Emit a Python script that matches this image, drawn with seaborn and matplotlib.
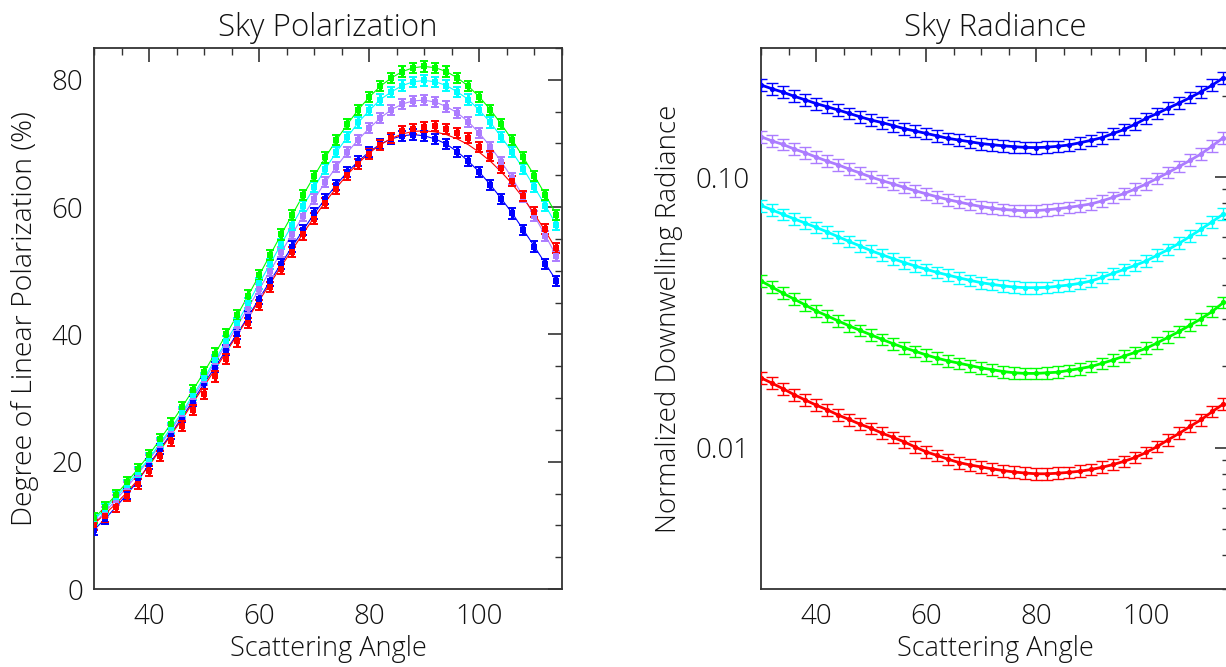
import matplotlib
matplotlib.use("Agg")
import matplotlib.pyplot as plt
import numpy as np
import pandas as pd
import seaborn as sns
from matplotlib.ticker import MultipleLocator, FixedLocator, FixedFormatter, LogLocator, NullFormatter

# ---------------- data ----------------
ANGLES = list(range(30, 116, 2))  # scattering angle (deg)

SERIES = ["blue", "red", "green", "cyan", "purple"]
COLORS = {"blue": "#0000FF", "red": "#FF0000", "green": "#00FF00",
          "cyan": "#00FFFF", "purple": "#AC7CFF"}

# Degree of linear polarization (%)
POL_GREEN = [11.1, 12.9, 14.8, 16.8, 18.9, 21.1, 23.5, 26.0, 28.6, 31.3, 34.1, 37.0, 40.0, 43.0,
             46.1, 49.3, 52.5, 55.7, 58.8, 61.9, 64.9, 67.8, 70.5, 73.0, 75.3, 77.3, 79.0, 80.3,
             81.3, 81.9, 82.1, 81.9, 81.3, 80.3, 79.0, 77.3, 75.3, 73.0, 70.5, 67.8, 64.9, 61.9, 58.8]
POL_CYAN = [10.8, 12.6, 14.4, 16.4, 18.4, 20.5, 22.9, 25.3, 27.8, 30.5, 33.2, 36.0, 38.9, 41.8,
            44.9, 48.0, 51.1, 54.2, 57.2, 60.2, 63.1, 66.0, 68.6, 71.0, 73.3, 75.2, 76.9, 78.1,
            79.1, 79.7, 79.9, 79.7, 79.1, 78.1, 76.9, 75.2, 73.3, 71.0, 68.6, 66.0, 63.1, 60.2, 57.2]
POL_PURPLE = [10.3, 12.1, 14.0, 16.0, 18.1, 20.3, 22.6, 25.0, 27.5, 30.1, 32.8, 35.6, 38.4, 41.3,
              44.2, 47.1, 50.0, 52.9, 55.8, 58.6, 61.3, 63.9, 66.3, 68.6, 70.6, 72.4, 74.0, 75.3,
              76.2, 76.7, 76.8, 76.5, 75.8, 74.8, 73.4, 71.6, 69.5, 67.1, 64.5, 61.6, 58.6, 55.5, 52.3]
POL_BLUE = [9.3, 11.0, 12.9, 14.9, 17.0, 19.6, 22.0, 24.4, 27.0, 29.6, 32.3, 34.9, 37.5, 40.1,
            42.8, 45.6, 48.4, 51.1, 53.8, 56.4, 59.0, 61.3, 63.5, 65.5, 67.2, 68.7, 69.9, 70.7,
            71.2, 71.4, 71.2, 70.7, 69.9, 68.7, 67.2, 65.5, 63.5, 61.3, 59.0, 56.4, 53.8, 51.1, 48.4]
POL_RED = [10.0, 11.4, 12.9, 14.6, 16.5, 18.6, 20.9, 23.2, 25.6, 28.1, 30.7, 33.4, 36.1, 38.9,
           41.8, 44.6, 47.5, 50.3, 53.0, 55.7, 58.2, 60.6, 62.9, 65.0, 66.8, 68.4, 69.8, 70.9,
           71.9, 72.3, 72.6, 72.7, 72.3, 71.7, 70.8, 69.5, 68.0, 66.2, 64.1, 61.8, 59.2, 56.5, 53.6]
# thin model curve for the red channel (differs slightly from the measured points)
POL_RED_FIT = [10.2, 11.8, 13.4, 15.2, 17.2, 19.4, 21.8, 24.2, 26.7, 29.3, 31.9, 34.5, 37.2, 39.9,
               42.6, 45.3, 48.0, 50.7, 53.3, 55.9, 58.4, 60.8, 63.0, 65.1, 66.9, 68.5, 69.8, 70.8,
               71.5, 71.9, 72.0, 71.8, 71.4, 70.7, 69.8, 68.6, 67.2, 65.5, 63.6, 61.4, 58.9, 56.2, 53.3]

# Normalized downwelling radiance
RAD_BLUE = [0.219, 0.212, 0.206, 0.199, 0.193, 0.187, 0.182, 0.177, 0.172, 0.167, 0.1625, 0.159,
            0.155, 0.151, 0.148, 0.145, 0.142, 0.139, 0.137, 0.135, 0.133, 0.1317, 0.1305, 0.1295,
            0.1287, 0.1285, 0.129, 0.130, 0.1315, 0.134, 0.1368, 0.140, 0.145, 0.150, 0.157, 0.165,
            0.172, 0.180, 0.188, 0.197, 0.207, 0.219, 0.233]
RAD_PURPLE = [0.141, 0.136, 0.132, 0.127, 0.123, 0.1186, 0.1145, 0.111, 0.107, 0.1035, 0.100, 0.097,
              0.0943, 0.0916, 0.089, 0.0867, 0.0845, 0.0825, 0.0808, 0.0792, 0.0778, 0.0767, 0.0759,
              0.0754, 0.0751, 0.0752, 0.0757, 0.0764, 0.0773, 0.0784, 0.0796, 0.0817, 0.0842, 0.087,
              0.0904, 0.0944, 0.099, 0.104, 0.1095, 0.1155, 0.122, 0.1305, 0.140]
RAD_CYAN = [0.0785, 0.0756, 0.0728, 0.0701, 0.0676, 0.0652, 0.0627, 0.0602, 0.0578, 0.0556, 0.0534,
            0.0516, 0.0499, 0.0483, 0.0469, 0.0456, 0.0444, 0.0434, 0.0424, 0.0415, 0.0407, 0.0401,
            0.0396, 0.0392, 0.0390, 0.0390, 0.0391, 0.0395, 0.0399, 0.0405, 0.0413, 0.0426, 0.0441,
            0.0456, 0.0472, 0.049, 0.0515, 0.054, 0.057, 0.0605, 0.0643, 0.0685, 0.073]
RAD_GREEN = [0.0413, 0.0392, 0.0372, 0.0354, 0.0337, 0.032, 0.0307, 0.0294, 0.0282, 0.0271, 0.0261,
             0.0251, 0.0242, 0.0234, 0.0227, 0.022, 0.0214, 0.0209, 0.0205, 0.0201, 0.0197, 0.0194,
             0.0191, 0.0189, 0.0188, 0.0188, 0.0189, 0.019, 0.0193, 0.0196, 0.01995, 0.0205, 0.0211,
             0.0218, 0.0225, 0.0233, 0.0244, 0.0256, 0.0269, 0.0284, 0.030, 0.0319, 0.0344]
RAD_RED = [0.0181, 0.0173, 0.0165, 0.0157, 0.015, 0.01436, 0.0138, 0.0132, 0.0127, 0.0122, 0.01178,
           0.0113, 0.0109, 0.0105, 0.01005, 0.00964, 0.00935, 0.00905, 0.0088, 0.00862, 0.00848,
           0.00834, 0.00822, 0.00812, 0.00805, 0.0080, 0.0080, 0.00804, 0.0081, 0.00818, 0.0083,
           0.00846, 0.00866, 0.0089, 0.0092, 0.0096, 0.0101, 0.0107, 0.0113, 0.0120, 0.0127,
           0.0136, 0.0145]

POL_ERR = 0.8        # half-height of the small polarization error bars (%)
RAD_ERR_FRAC = 0.05   # relative radiance uncertainty

X_TICKS = [40, 60, 80, 100]
POL_TICKS = [0, 20, 40, 60, 80]
RAD_TICKS = [0.01, 0.10]
RAD_TICK_LABELS = ["0.01", "0.10"]

pol = pd.DataFrame({"angle": ANGLES, "blue": POL_BLUE, "red": POL_RED, "green": POL_GREEN,
                    "cyan": POL_CYAN, "purple": POL_PURPLE})
rad = pd.DataFrame({"angle": ANGLES, "blue": RAD_BLUE, "red": RAD_RED, "green": RAD_GREEN,
                    "cyan": RAD_CYAN, "purple": RAD_PURPLE})
pol_long = pol.melt(id_vars="angle", var_name="series", value_name="value")
rad_long = rad.melt(id_vars="angle", var_name="series", value_name="value")

# ---------------- style ----------------
sns.set_theme(style="white")
plt.rcParams["font.family"] = ["Open Sans", "DejaVu Sans"]
plt.rcParams["font.weight"] = "light"
TXT = "#111111"
FW = "light"

fig = plt.figure(figsize=(12.26, 6.67), dpi=100)
W, H = 1226.0, 667.0
ax1 = fig.add_axes([94 / W, (H - 589) / H, 468 / W, 541 / H])
ax2 = fig.add_axes([761 / W, (H - 589) / H, 468 / W, 541 / H])

draw_order = ["blue", "purple", "cyan", "green", "red"]

# ---- left: polarization ----
for s in draw_order:
    d = pol_long[pol_long.series == s]
    c = COLORS[s]
    if s == "red":
        sns.lineplot(x=ANGLES, y=POL_RED_FIT, ax=ax1, color=c, lw=0.8, zorder=2)
    else:
        sns.lineplot(data=d, x="angle", y="value", ax=ax1, color=c, lw=0.8, zorder=2)
    ax1.errorbar(d["angle"], d["value"], yerr=POL_ERR, fmt="none", ecolor=c,
                 elinewidth=2.2, capsize=2.6, capthick=1.4, zorder=3)
    sns.scatterplot(data=d, x="angle", y="value", ax=ax1, color=c, s=14, marker="s",
                    linewidth=0, zorder=4)

ax1.set_xlim(30, 115)
ax1.set_ylim(0, 85)
ax1.xaxis.set_major_locator(FixedLocator(X_TICKS))
ax1.xaxis.set_minor_locator(MultipleLocator(5))
ax1.yaxis.set_major_locator(FixedLocator(POL_TICKS))
ax1.yaxis.set_minor_locator(MultipleLocator(5))
ax1.set_title("Sky Polarization", fontsize=22.5, color=TXT, pad=9, fontweight=FW)
ax1.set_xlabel("Scattering Angle", fontsize=19.5, color=TXT, labelpad=3, fontweight=FW)
ax1.set_ylabel("Degree of Linear Polarization (%)", fontsize=20.5, color=TXT, labelpad=9,
               fontweight=FW)

# ---- right: radiance ----
for s in draw_order:
    d = rad_long[rad_long.series == s]
    c = COLORS[s]
    ax2.errorbar(d["angle"], d["value"], yerr=d["value"] * RAD_ERR_FRAC, fmt="none",
                 ecolor=c, elinewidth=1.0, capsize=4.5, capthick=1.0, zorder=3)
    sns.lineplot(data=d, x="angle", y="value", ax=ax2, color=c, lw=2.0, marker="o",
                 markersize=3.8, markeredgewidth=0, zorder=4)

ax2.set_yscale("log")
ax2.set_xlim(30, 115)
ax2.set_ylim(0.003, 0.3)
ax2.xaxis.set_major_locator(FixedLocator(X_TICKS))
ax2.xaxis.set_minor_locator(MultipleLocator(5))
ax2.yaxis.set_major_locator(FixedLocator(RAD_TICKS))
ax2.yaxis.set_major_formatter(FixedFormatter(RAD_TICK_LABELS))
ax2.yaxis.set_minor_locator(LogLocator(base=10, subs=np.arange(2, 10)))
ax2.yaxis.set_minor_formatter(NullFormatter())
ax2.set_title("Sky Radiance", fontsize=22.5, color=TXT, pad=9, fontweight=FW)
ax2.set_xlabel("Scattering Angle", fontsize=19.5, color=TXT, labelpad=3, fontweight=FW)
ax2.set_ylabel("Normalized Downwelling Radiance", fontsize=20, color=TXT, labelpad=9,
               fontweight=FW)

for ax in (ax1, ax2):
    for sp in ax.spines.values():
        sp.set_visible(True)
        sp.set_color("#333333")
        sp.set_linewidth(1.3)
    ax.tick_params(which="both", direction="in", top=True, right=True, colors="#333333",
                   labelcolor=TXT, labelsize=20)
    ax.tick_params(which="major", length=10, width=1.2)
    ax.tick_params(which="minor", length=5, width=1.0)
    ax.tick_params(axis="x", which="major", pad=10)
    ax.tick_params(axis="y", which="major", pad=8)
    for lab in ax.get_xticklabels() + ax.get_yticklabels():
        lab.set_fontweight(FW)
    ax.grid(False)

fig.savefig("out.png", dpi=100, facecolor="white")
